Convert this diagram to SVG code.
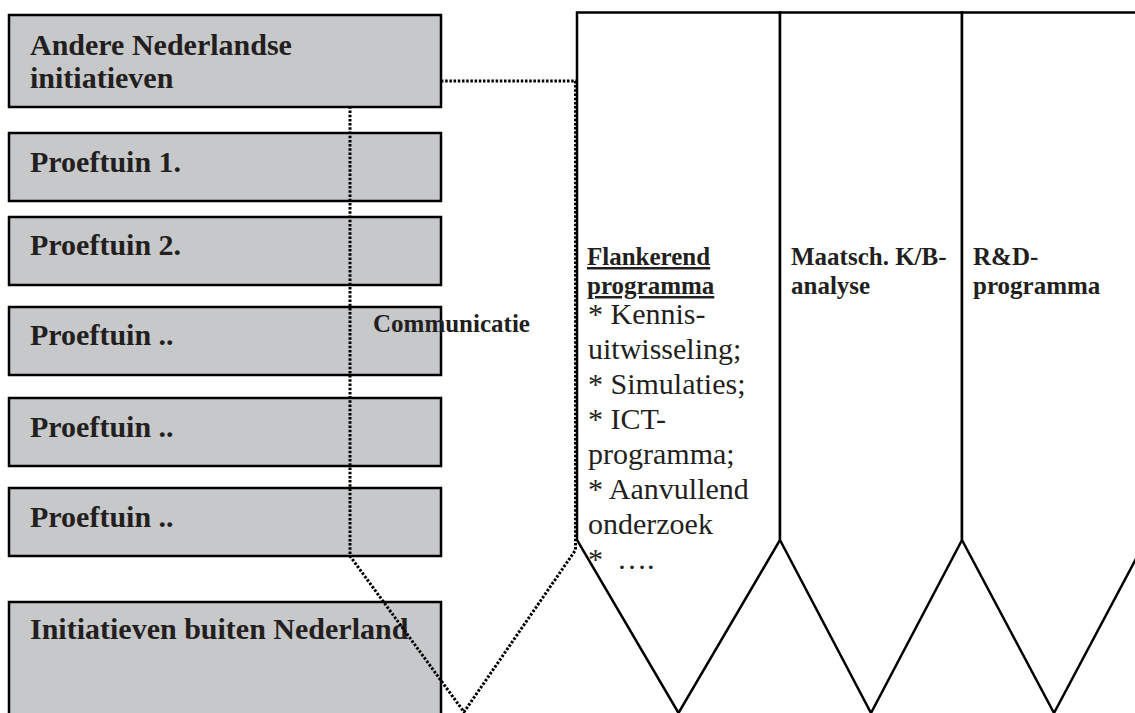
<svg xmlns="http://www.w3.org/2000/svg" width="1135" height="713" viewBox="0 0 1135 713">
  <style>
    .box { fill: #c7c8ca; stroke: #000; stroke-width: 2.5; }
    .pent { fill: #fff; stroke: #000; stroke-width: 2.5; stroke-linejoin: miter; }
    .bt { font-family: "Liberation Serif", "Times New Roman", serif; font-weight: bold; font-size: 30px; fill: #231f20; }
    .ht { font-family: "Liberation Serif", "Times New Roman", serif; font-weight: bold; font-size: 25px; fill: #231f20; }
    .rt { font-family: "Liberation Serif", "Times New Roman", serif; font-size: 30px; fill: #231f20; }
    .dot { fill: none; stroke: #000; stroke-width: 3; stroke-dasharray: 2.5 1.7; }
  </style>
  <rect width="1135" height="713" fill="#fff"/>

  <g id="pillars">
    <polygon id="flankerend" class="pent" points="577,12.5 780,12.5 780,540 678.5,713 577,540"/>
    <polygon id="kb-analyse" class="pent" points="780,12.5 962,12.5 962,540 871,713 780,540"/>
    <polygon id="rd-programma" class="pent" points="962,12.5 1146,12.5 1146,540 1054,713 962,540"/>
  </g>

  <g id="box-andere">
    <rect class="box" x="9" y="15" width="432" height="92"/>
    <text class="bt" x="30" y="55">Andere Nederlandse</text>
    <text class="bt" x="30" y="88">initiatieven</text>
  </g>
  <g id="box-proeftuin1">
    <rect class="box" x="9" y="133" width="432" height="68"/>
    <text class="bt" x="30" y="172">Proeftuin 1.</text>
  </g>
  <g id="box-proeftuin2">
    <rect class="box" x="9" y="217" width="432" height="68"/>
    <text class="bt" x="30" y="255">Proeftuin 2.</text>
  </g>
  <g id="box-proeftuin3">
    <rect class="box" x="9" y="307" width="432" height="68"/>
    <text class="bt" x="30" y="345">Proeftuin ..</text>
  </g>
  <g id="box-proeftuin4">
    <rect class="box" x="9" y="398" width="432" height="68"/>
    <text class="bt" x="30" y="437">Proeftuin ..</text>
  </g>
  <g id="box-proeftuin5">
    <rect class="box" x="9" y="488" width="432" height="68"/>
    <text class="bt" x="30" y="527">Proeftuin ..</text>
  </g>
  <g id="box-buiten">
    <rect class="box" x="9" y="602" width="432" height="130"/>
    <text class="bt" x="30" y="639">Initiatieven buiten Nederland</text>
  </g>

  <g id="connectors">
    <path class="dot" d="M441,81 H575.5 V550 L464,712 L350,556 V107"/>
  </g>

  <g id="labels">
    <text class="ht" x="373" y="332">Communicatie</text>
    <text class="ht" x="587" y="265" text-decoration="underline">Flankerend</text>
    <text class="ht" x="587" y="294" text-decoration="underline">programma</text>
    <text class="rt" x="588" y="324">* Kennis-</text>
    <text class="rt" x="588" y="359">uitwisseling;</text>
    <text class="rt" x="588" y="394">* Simulaties;</text>
    <text class="rt" x="588" y="429">* ICT-</text>
    <text class="rt" x="588" y="464">programma;</text>
    <text class="rt" x="588" y="499">* Aanvullend</text>
    <text class="rt" x="588" y="534">onderzoek</text>
    <text class="rt" x="588" y="569">*<tspan x="617">….</tspan></text>
    <text class="ht" x="791" y="265">Maatsch. K/B-</text>
    <text class="ht" x="791" y="294">analyse</text>
    <text class="ht" x="973" y="265">R&amp;D-</text>
    <text class="ht" x="973" y="294">programma</text>
  </g>
</svg>
